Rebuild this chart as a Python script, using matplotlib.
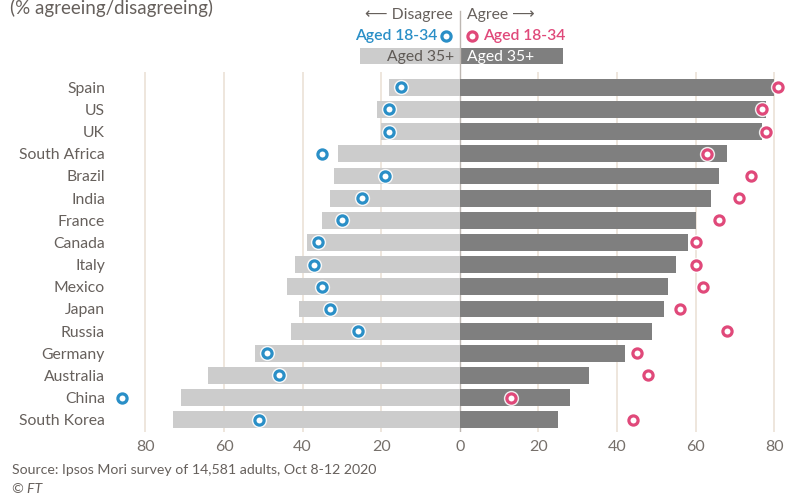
import matplotlib
matplotlib.use("Agg")
import matplotlib.pyplot as plt
from matplotlib.patches import Rectangle

plt.rcParams["font.family"] = ["Lato", "DejaVu Sans"]

countries = ["Spain", "US", "UK", "South Africa", "Brazil", "India", "France",
             "Canada", "Italy", "Mexico", "Japan", "Russia", "Germany",
             "Australia", "China", "South Korea"]
# % agreeing
agree_35 = [80, 78, 77, 68, 66, 64, 60, 58, 55, 53, 52, 49, 42, 33, 28, 25]
agree_18 = [81, 77, 78, 63, 74, 71, 66, 60, 60, 62, 56, 68, 45, 48, 13, 44]
# % disagreeing
disagree_35 = [18, 21, 20, 31, 32, 33, 35, 39, 42, 44, 41, 43, 52, 64, 71, 73]
disagree_18 = [15, 18, 18, 35, 19, 25, 30, 36, 37, 35, 33, 26, 49, 46, 86, 51]

tick_vals = [-80, -60, -40, -20, 0, 20, 40, 60, 80]
tick_labels = ["80", "60", "40", "20", "0", "20", "40", "60", "80"]

TEXT = "#66605c"
LIGHT = "#cccccc"
DARK = "#7f7f7f"
BLUE = "#2a8fc7"
PINK = "#e0497a"
GRID = "#ebe1d7"
XLIM = (-88.5, 83)

fig = plt.figure(figsize=(7.86, 4.99), dpi=100)
W, H = 786, 499
ax = fig.add_axes([112 / W, 1 - 432 / H, (786 - 112) / W, 360 / H])
ax.set_xlim(*XLIM)
ax.set_ylim(15.55, -0.69)

y = list(range(len(countries)))
for v in [-80, -60, -40, -20, 20, 40, 60, 80]:
    ax.axvline(v, color=GRID, lw=1.2, zorder=0)

ax.barh(y, [-d for d in disagree_35], height=0.76, color=LIGHT, zorder=2)
ax.barh(y, agree_35, height=0.76, color=DARK, zorder=2)
ax.axvline(0, color="#bdb7b2", lw=1, zorder=1)


def rings(xs, color):
    ax.plot(xs, y, "o", ms=10, color="white", alpha=0.8, zorder=3)
    ax.plot(xs, y, "o", ms=6.6, mfc="white", mec=color, mew=2.3, zorder=4,
            linestyle="none")


rings([-d for d in disagree_18], BLUE)
rings(agree_18, PINK)

ax.set_yticks(y)
ax.set_yticklabels(countries, fontsize=11.3, color=TEXT)
ax.set_xticks(tick_vals)
ax.set_xticklabels(tick_labels, fontsize=11.5, color="#76706b")
ax.tick_params(length=0, pad=6)
ax.tick_params(axis="y", pad=5)
for s in ax.spines.values():
    s.set_visible(False)

# key above the chart, sharing the x scale
lg = fig.add_axes([112 / W, 1 - 72 / H, (786 - 112) / W, 72 / H])
lg.set_xlim(*XLIM)
lg.set_ylim(72, 0)
lg.axis("off")
lg.plot([0, 0], [11, 72], color="#bdb7b2", lw=1)
lg.add_patch(Rectangle((-25.4, 48.3), 25.4, 16, color=LIGHT, lw=0))
lg.add_patch(Rectangle((0, 48.3), 26.2, 16, color=DARK, lw=0))
lg.text(-1.5, 57, "Aged 35+", ha="right", va="center", fontsize=11.3, color="#5f5a56")
lg.text(1.8, 57, "Aged 35+", ha="left", va="center", fontsize=11.3, color="white")
lg.text(-5.6, 36, "Aged 18-34", ha="right", va="center", fontsize=11.3,
        color=BLUE, fontweight="semibold")
lg.text(5.9, 36, "Aged 18-34", ha="left", va="center", fontsize=11.3,
        color=PINK, fontweight="semibold")
lg.plot([-3.4], [36], "o", ms=6.6, mfc="white", mec=BLUE, mew=2.3)
lg.plot([3.2], [36], "o", ms=6.6, mfc="white", mec=PINK, mew=2.3)
lg.text(-1.8, 15, "⟵ Disagree", ha="right", va="center", fontsize=11.3, color=TEXT)
lg.text(1.8, 15, "Agree ⟶", ha="left", va="center", fontsize=11.3, color=TEXT)

fig.text(10 / W, 1 - 8 / H, "(% agreeing/disagreeing)", ha="left", va="center",
         fontsize=13.5, color=TEXT)
fig.text(12 / W, 1 - 470 / H, "Source: Ipsos Mori survey of 14,581 adults, Oct 8-12 2020",
         ha="left", va="center", fontsize=10.2, color=TEXT)
fig.text(12 / W, 1 - 489 / H, "© FT", ha="left", va="center", fontsize=10.2,
         color=TEXT, style="italic")

fig.savefig("out.png", dpi=100, facecolor="white")
